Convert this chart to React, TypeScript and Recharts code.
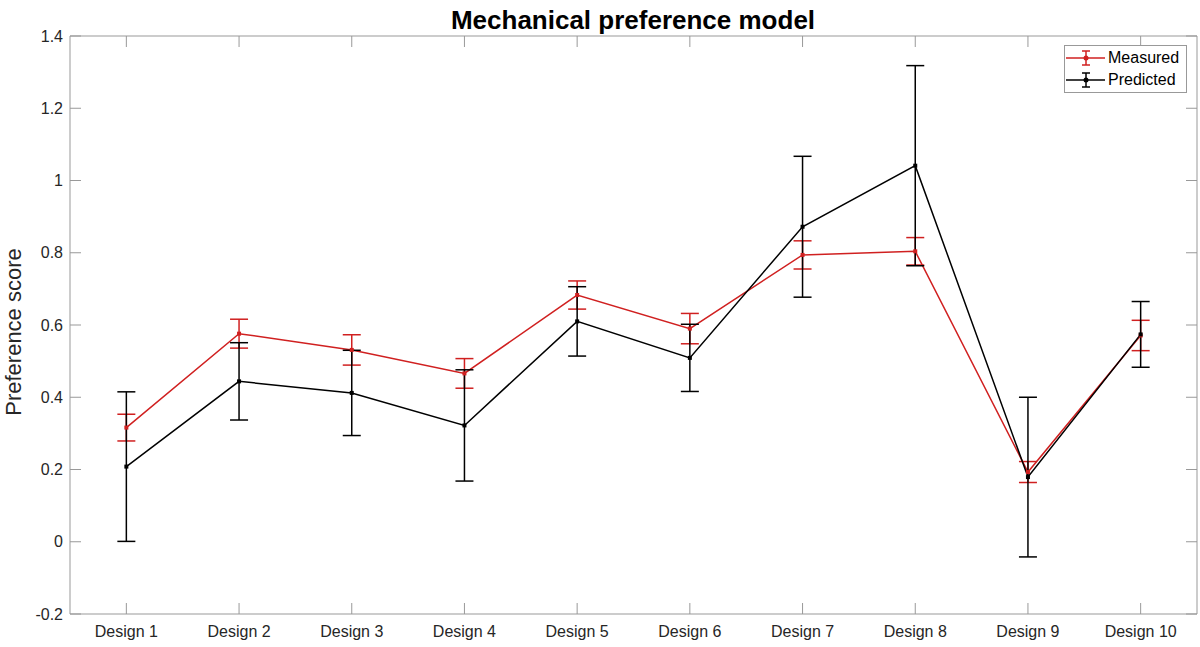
import React from 'react';
import {
  ComposedChart,
  Line,
  XAxis,
  YAxis,
  ErrorBar,
  Legend,
} from 'recharts';

const designs = [
  'Design 1', 'Design 2', 'Design 3', 'Design 4', 'Design 5',
  'Design 6', 'Design 7', 'Design 8', 'Design 9', 'Design 10',
];
const designIndex = [1, 2, 3, 4, 5, 6, 7, 8, 9, 10];
const measured = [0.316, 0.576, 0.531, 0.466, 0.683, 0.59, 0.794, 0.804, 0.193, 0.571];
const measuredErr = [0.037, 0.04, 0.042, 0.041, 0.039, 0.042, 0.039, 0.038, 0.029, 0.042];
const predicted = [0.208, 0.444, 0.412, 0.322, 0.61, 0.509, 0.872, 1.041, 0.179, 0.574];
const predictedErr = [0.207, 0.107, 0.118, 0.154, 0.096, 0.093, 0.195, 0.277, 0.221, 0.091];
const yTicks = [-0.2, 0, 0.2, 0.4, 0.6, 0.8, 1, 1.2, 1.4];

const RED = '#d02020';
const AXIS = '#999999';
const LABEL = '#262626';
const FONT = '"Liberation Sans", Arial, Helvetica, sans-serif';
const TICK_LEN = 11;

const data = designIndex.map((x, i) => ({
  x,
  measured: measured[i],
  measuredErr: measuredErr[i],
  predicted: predicted[i],
  predictedErr: predictedErr[i],
}));

const fmt = (v: number) => String(Number(v.toFixed(1)));

const BottomTick = ({ x, y, payload }: any) => (
  <g>
    <line x1={x} x2={x} y1={y} y2={y - TICK_LEN} stroke={AXIS} />
    <text x={x} y={y + 23} textAnchor="middle" fontSize={16} fill={LABEL} fontFamily={FONT}>
      {designs[payload.value - 1]}
    </text>
  </g>
);

const TopTick = ({ x, y }: any) => (
  <line x1={x} x2={x} y1={y} y2={y + TICK_LEN} stroke={AXIS} />
);

const LeftTick = ({ x, y, payload }: any) => (
  <g>
    <line x1={x} x2={x + TICK_LEN} y1={y} y2={y} stroke={AXIS} />
    <text x={x - 7} y={y} dy="0.35em" textAnchor="end" fontSize={16} fill={LABEL} fontFamily={FONT}>
      {fmt(payload.value)}
    </text>
  </g>
);

const RightTick = ({ x, y }: any) => (
  <line x1={x} x2={x - TICK_LEN} y1={y} y2={y} stroke={AXIS} />
);

const squareDot = (color: string) => (props: any) => {
  const { cx, cy, index } = props;
  return <rect key={index} x={cx - 2} y={cy - 2} width={4} height={4} fill={color} />;
};

const LegendIcon = ({ color }: { color: string }) => (
  <svg width={42} height={20} style={{ display: 'block' }}>
    <line x1={1} x2={40} y1={10} y2={10} stroke={color} strokeWidth={1.5} />
    <line x1={21} x2={21} y1={3} y2={17} stroke={color} strokeWidth={1.5} />
    <line x1={17} x2={25} y1={3} y2={3} stroke={color} strokeWidth={1.5} />
    <line x1={17} x2={25} y1={17} y2={17} stroke={color} strokeWidth={1.5} />
    <circle cx={21} cy={10} r={2.5} fill={color} />
  </svg>
);

const legendItems = [
  { label: 'Measured', color: RED },
  { label: 'Predicted', color: '#000' },
];

const LegendBox = () => (
  <div
    style={{
      border: `1px solid ${AXIS}`,
      background: '#fff',
      width: 121,
      height: 45,
      boxSizing: 'content-box',
      fontFamily: FONT,
      fontSize: 16,
      color: '#000',
      paddingTop: 1,
    }}
  >
    {legendItems.map((it) => (
      <div key={it.label} style={{ display: 'flex', alignItems: 'center', height: 22 }}>
        <LegendIcon color={it.color} />
        <span style={{ marginLeft: 1 }}>{it.label}</span>
      </div>
    ))}
  </div>
);

const xDomain: [number, number] = [0.5, 10.5];

export default function App() {
  return (
    <div style={{ position: 'absolute', left: 0, top: 0, width: 1200, height: 647, background: '#fff' }}>
      <div
        style={{
          position: 'absolute',
          left: 0,
          width: 1266,
          top: 5,
          textAlign: 'center',
          fontFamily: FONT,
          fontWeight: 'bold',
          fontSize: 26,
          color: '#000',
        }}
      >
        Mechanical preference model
      </div>
      <div
        style={{
          position: 'absolute',
          left: 5,
          top: 246,
          width: 17,
          height: 172,
          display: 'flex',
          alignItems: 'center',
          justifyContent: 'center',
        }}
      >
        <div
          style={{
            transform: 'rotate(-90deg)',
            whiteSpace: 'nowrap',
            fontFamily: FONT,
            fontSize: 22,
            lineHeight: '22px',
            color: LABEL,
          }}
        >
          Preference score
        </div>
      </div>
      <ComposedChart
        width={1200}
        height={647}
        data={data}
        margin={{ top: 35, right: 2, bottom: 3, left: 20 }}
      >
        <XAxis
          dataKey="x"
          type="number"
          domain={xDomain}
          ticks={designIndex}
          allowDataOverflow
          height={30}
          axisLine={{ stroke: AXIS }}
          tickLine={false}
          tickSize={0}
          tickMargin={0}
          tick={<BottomTick />}
          interval={0}
        />
        <XAxis
          xAxisId="top"
          dataKey="x"
          type="number"
          domain={xDomain}
          ticks={designIndex}
          allowDataOverflow
          orientation="top"
          height={1}
          axisLine={{ stroke: AXIS }}
          tickLine={false}
          tickSize={0}
          tickMargin={0}
          tick={<TopTick />}
          interval={0}
        />
        <YAxis
          type="number"
          domain={[-0.2, 1.4]}
          ticks={yTicks}
          width={50}
          allowDataOverflow
          axisLine={{ stroke: AXIS }}
          tickLine={false}
          tickSize={0}
          tickMargin={0}
          tick={<LeftTick />}
          interval={0}
        />
        <YAxis
          yAxisId="right"
          orientation="right"
          type="number"
          domain={[-0.2, 1.4]}
          ticks={yTicks}
          width={1}
          allowDataOverflow
          axisLine={{ stroke: AXIS }}
          tickLine={false}
          tickSize={0}
          tickMargin={0}
          tick={<RightTick />}
          interval={0}
        />
        <Line
          dataKey="measured"
          stroke={RED}
          strokeWidth={1.5}
          dot={squareDot(RED)}
          activeDot={false}
          isAnimationActive={false}
        >
          <ErrorBar dataKey="measuredErr" width={9} stroke={RED} strokeWidth={1.5} isAnimationActive={false} />
        </Line>
        <Line
          dataKey="predicted"
          stroke="#000"
          strokeWidth={1.5}
          dot={squareDot('#000')}
          activeDot={false}
          isAnimationActive={false}
        >
          <ErrorBar dataKey="predictedErr" width={9} stroke="#000" strokeWidth={1.5} isAnimationActive={false} />
        </Line>
        <Legend
          layout="horizontal"
          verticalAlign="middle"
          align="center"
          content={<LegendBox />}
          wrapperStyle={{ position: 'absolute', left: 1064, top: 45, width: 123, height: 47 }}
        />
      </ComposedChart>
    </div>
  );
}
